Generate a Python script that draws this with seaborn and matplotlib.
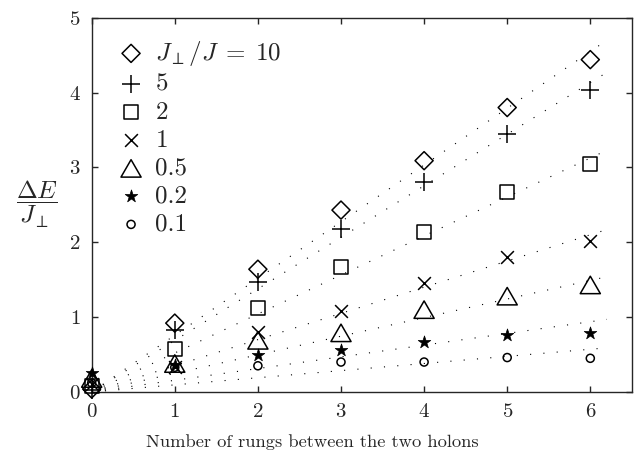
import numpy as np
import pandas as pd
import matplotlib
matplotlib.use("Agg")
import matplotlib.pyplot as plt
from matplotlib.path import Path
import seaborn as sns

# distance between the holons (number of rungs)
rungs = [0, 1, 2, 3, 4, 5, 6]

# Delta E / J_perp for each J_perp/J
gap_10 = [0.04, 0.92, 1.64, 2.43, 3.09, 3.80, 4.44]
gap_5 = [0.02, 0.83, 1.47, 2.18, 2.80, 3.45, 4.03]
gap_2 = [0.08, 0.57, 1.12, 1.67, 2.14, 2.67, 3.05]
gap_1 = [0.10, 0.34, 0.80, 1.08, 1.46, 1.80, 2.02]
gap_05 = [0.18, 0.38, 0.69, 0.79, 1.10, 1.28, 1.43]
gap_02 = [0.25, 0.36, 0.49, 0.56, 0.67, 0.76, 0.79]
gap_01 = [0.12, 0.33, 0.35, 0.40, 0.40, 0.46, 0.45]

# dotted linear fits: start at the origin, end at x = 6.2
fit_x = [0, 6.2]
fit_end = [4.70, 4.27, 3.23, 2.17, 1.54, 0.97, 0.59]

labels = [r"$J_\perp/J\;=\;10$", "5", "2", "1", "0.5", "0.2", "0.1"]

sns.set_style("ticks")
plt.rcParams["font.family"] = "serif"
plt.rcParams["font.serif"] = ["cmr10", "DejaVu Serif"]
plt.rcParams["mathtext.fontset"] = "cm"
plt.rcParams["axes.formatter.use_mathtext"] = True

fig = plt.figure(figsize=(6.42, 4.54), dpi=100)
ax = fig.add_axes([0.1428, 0.1366, 0.8414, 0.8244])

# fits first, markers on top
for end in fit_end:
    ax.plot(fit_x, [0, end], color="black", lw=0.8,
            linestyle=(0, (1, 11)), dash_capstyle="butt", zorder=1)

# open equilateral triangle (wider than tall, like the original)
triangle = Path([(-1, -0.866), (1, -0.866), (0, 0.866), (0, 0)],
                [Path.MOVETO, Path.LINETO, Path.LINETO, Path.CLOSEPOLY])

series = [gap_10, gap_5, gap_2, gap_1, gap_05, gap_02, gap_01]
markers = ["D", "+", "s", "x", triangle, "*", "o"]
sizes = [9.2, 12.5, 10.2, 9.2, 14.5, 9.5, 5.8]
widths = [1.1, 1.1, 1.1, 1.1, 1.1, 0.5, 1.1]
hollow = [True, False, True, False, True, False, True]

for vals, mk, ms, lw, hol, lab in zip(series, markers, sizes, widths, hollow, labels):
    df = pd.DataFrame({"rungs": rungs, "gap": vals})
    if hol:
        kw = dict(facecolors="none", edgecolor="black")
    else:
        kw = dict(color="black", edgecolor="black")
    sns.scatterplot(data=df, x="rungs", y="gap", marker=mk, s=ms ** 2,
                    linewidth=lw, label=lab, clip_on=False, zorder=3,
                    ax=ax, **kw)

ax.set_xlim(0, 6.5)
ax.set_ylim(0, 5)
ax.set_xticks(range(7))
ax.set_yticks(range(6))
ax.tick_params(direction="in", length=4.5, width=1.0, labelsize=15, pad=8,
               top=True, right=True)
for sp in ax.spines.values():
    sp.set_linewidth(1.0)
    sp.set_visible(True)

ax.set_xlabel("Number of rungs between the two holons", fontsize=13.3)
ax.xaxis.set_label_coords(0.408, -0.112)
ax.set_ylabel(r"$\dfrac{\Delta E}{J_\perp}$", fontsize=18, rotation=0,
              va="center", ha="center")
ax.yaxis.set_label_coords(-0.101, 0.5)

ax.legend(loc="upper left", frameon=False, fontsize=18, scatterpoints=1,
          handletextpad=0.25, labelspacing=0.22, borderaxespad=0.65,
          borderpad=0.2, handlelength=1.45)

fig.savefig("out.png", dpi=100)
